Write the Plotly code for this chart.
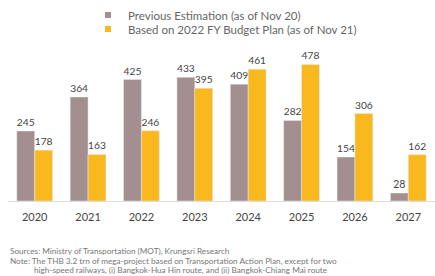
import plotly.graph_objects as go

years = ["2020", "2021", "2022", "2023", "2024", "2025", "2026", "2027"]
previous = [245, 364, 425, 433, 409, 282, 154, 28]
budget = [178, 163, 246, 395, 461, 478, 306, 162]
name_prev = "Previous Estimation (as of Nov 20)"
name_budget = "Based on 2022 FY Budget Plan (as of Nov 21)"
source_text = "Sources: Ministry of Transportation (MOT), Krungsri Research"
note_line1 = "Note: The THB 3.2 trn of mega-project based on Transportation Action Plan, except for two"
note_line2 = "high-speed railways, (i) Bangkok-Hua Hin route, and (ii) Bangkok-Chiang Mai route"

FONT = "Lato, Noto Sans, sans-serif"
COL_PREV = "#a38f8f"
COL_BUDGET = "#f9b81e"
W, H = 435, 276
ML, MR, MT, MB = 8, 0, 41, 75
PH = H - MT - MB
PW = W - ML - MR

def py(y):
    return (H - MB - y) / PH

def px(x):
    return (x - ML) / PW

fig = go.Figure()
fig.add_bar(x=years, y=previous, name=name_prev, marker_color=COL_PREV,
            showlegend=False,
            text=previous, textposition="outside", cliponaxis=False,
            textfont=dict(size=10.5, color="#444444", family=FONT))
fig.add_bar(x=years, y=budget, name=name_budget, marker_color=COL_BUDGET,
            showlegend=False,
            text=budget, textposition="outside", cliponaxis=False,
            textfont=dict(size=10.5, color="#444444", family=FONT))
# legend entries with small square swatches
fig.add_scatter(x=[None], y=[None], mode="markers", name=name_prev, legend="legend",
                marker=dict(symbol="square", size=6, color=COL_PREV))
fig.add_scatter(x=[None], y=[None], mode="markers", name=name_budget, legend="legend2",
                marker=dict(symbol="square", size=6, color=COL_BUDGET))

legend_style = dict(orientation="v", xanchor="left", yanchor="middle",
                    font=dict(size=11.5, color="#666666", family=FONT), itemwidth=30,
                    tracegroupgap=0, bgcolor="rgba(0,0,0,0)")

annotations = [
    dict(text=source_text, x=px(8), y=py(251)),
    dict(text=note_line1, x=px(8), y=py(261)),
    dict(text=note_line2, x=px(32), y=py(270)),
]
fig.update_layout(
    width=W, height=H,
    margin=dict(l=ML, r=MR, t=MT, b=MB),
    plot_bgcolor="white", paper_bgcolor="white",
    barmode="group", bargap=0.33, bargroupgap=0,
    font=dict(family=FONT, color="#555555"),
    showlegend=True,
    legend=dict(legend_style, x=px(88), y=py(15)),
    legend2=dict(legend_style, x=px(88), y=py(29)),
    xaxis=dict(showgrid=False, showline=True, linecolor="#dddddd", linewidth=1,
               ticks="", ticklabelstandoff=6,
               tickfont=dict(size=11, color="#444444", family=FONT)),
    yaxis=dict(range=[0, 560], visible=False),
    annotations=[dict(a, xref="paper", yref="paper", xanchor="left", yanchor="middle",
                      showarrow=False, font=dict(size=8.2, color="#777777", family=FONT))
                 for a in annotations],
)
fig.write_html("out.html", config={"displayModeBar": False},
               post_script="document.body.style.margin='0';")
